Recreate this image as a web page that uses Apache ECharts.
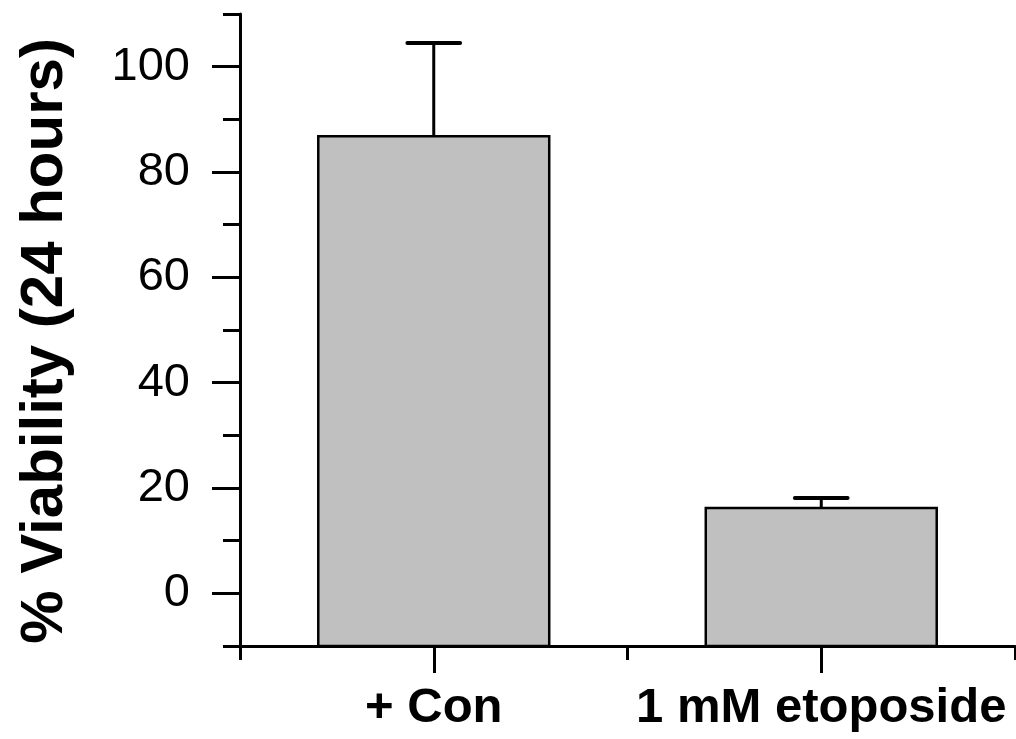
<!DOCTYPE html>
<html>
<head>
<meta charset="utf-8">
<script src="https://cdn.jsdelivr.net/npm/echarts@6/dist/echarts.min.js"></script>
<style>
html,body{margin:0;padding:0;background:#fff;}
#chart{width:1016px;height:739px;}
</style>
</head>
<body>
<div id="chart"></div>
<script>
var categories = ['+ Con', '1 mM etoposide'];
var viability = [86.8, 16.2];
var errors = [17.7, 1.9];
var yTickValues = [0, 20, 40, 60, 80, 100];

var FONT = '"Liberation Sans", Arial, Helvetica, sans-serif';
var BAR_HALF = 0.298;
var CAP_HALF = 0.068;

var chart = echarts.init(document.getElementById('chart'), null, {renderer: 'canvas'});

var barData = categories.map(function (c, i) { return [i + 1, viability[i], errors[i]]; });

chart.setOption({
  animation: false,
  backgroundColor: '#ffffff',
  grid: {left: 240, right: 1, top: 14, bottom: 93, containLabel: false},
  xAxis: [{
    type: 'value', min: 0.5, max: 2.5, position: 'bottom',
    axisLine: {show: true, onZero: false, lineStyle: {color: '#000', width: 3}},
    axisTick: {show: true, customValues: [1, 2], length: 27, lineStyle: {color: '#000', width: 3}},
    axisLabel: {
      show: true, customValues: [1, 2], margin: 38,
      formatter: function (v) { return categories[Math.round(v) - 1] || ''; },
      color: '#000', fontSize: 49, fontWeight: 'bold', fontFamily: FONT
    },
    splitLine: {show: false}
  }, {
    type: 'value', min: 0.5, max: 2.5, interval: 0.5, position: 'bottom', offset: 0,
    axisLine: {show: false, onZero: false},
    axisTick: {show: true, length: 14, lineStyle: {color: '#000', width: 3}},
    axisLabel: {show: false},
    splitLine: {show: false}
  }],
  yAxis: [{
    type: 'value', min: -10, max: 110, position: 'left',
    name: '% Viability (24 hours)', nameLocation: 'middle', nameGap: 165, nameRotate: 90,
    nameTextStyle: {color: '#000', fontSize: 60, fontWeight: 'bold', fontFamily: FONT, padding: [0, 22, 0, 0]},
    axisLine: {show: true, onZero: false, lineStyle: {color: '#000', width: 3}},
    axisTick: {show: true, customValues: yTickValues, length: 28, lineStyle: {color: '#000', width: 3}},
    axisLabel: {show: true, customValues: yTickValues, margin: 50, color: '#000', fontSize: 47, fontFamily: FONT},
    splitLine: {show: false}
  }, {
    type: 'value', min: -10, max: 110, interval: 10, position: 'left', offset: 0,
    axisLine: {show: false, onZero: false},
    axisTick: {show: true, length: 17, lineStyle: {color: '#000', width: 3}},
    axisLabel: {show: false},
    splitLine: {show: false}
  }],
  series: [{
    type: 'custom',
    xAxisIndex: 0, yAxisIndex: 0,
    data: barData,
    renderItem: function (params, api) {
      var x = api.value(0), v = api.value(1), e = api.value(2);
      var yMin = -10;
      var pL = api.coord([x - BAR_HALF, v]);
      var pR = api.coord([x + BAR_HALF, yMin]);
      var top = api.coord([x, v + e]);
      var capL = api.coord([x - CAP_HALF, v + e]);
      var capR = api.coord([x + CAP_HALF, v + e]);
      return {
        type: 'group',
        children: [{
          type: 'line',
          shape: {x1: top[0], y1: pL[1], x2: top[0], y2: top[1]},
          style: {stroke: '#000', lineWidth: 3}
        }, {
          type: 'line',
          shape: {x1: capL[0], y1: capL[1], x2: capR[0], y2: capR[1]},
          style: {stroke: '#000', lineWidth: 4, lineCap: 'round'}
        }, {
          type: 'rect',
          shape: {x: pL[0], y: pL[1], width: pR[0] - pL[0], height: pR[1] - pL[1]},
          style: {fill: '#c0c0c0', stroke: '#000', lineWidth: 2.5}
        }]
      };
    }
  }]
});
</script>
</body>
</html>
